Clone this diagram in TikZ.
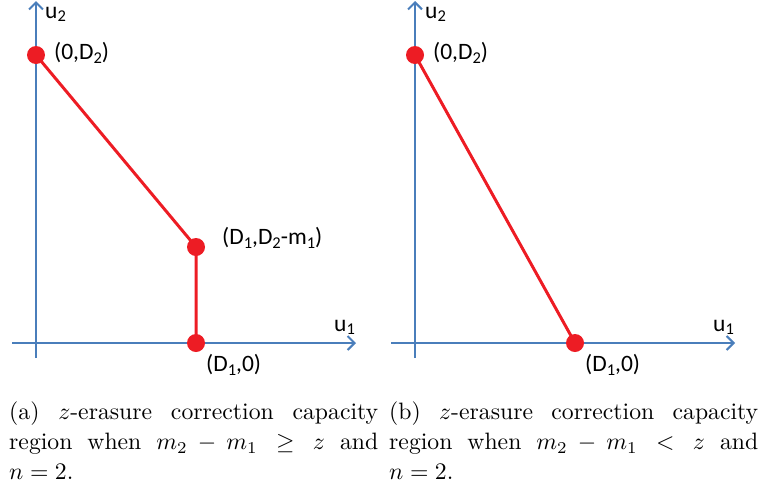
\documentclass[tikz,border=0pt]{standalone}
\usepackage{fontspec}
\newfontfamily\labfont{Carlito}
\usetikzlibrary{arrows.meta}
\definecolor{axisblue}{RGB}{74,126,187}
\definecolor{regred}{RGB}{237,28,36}
\newcommand{\lsub}[1]{\raisebox{-3.2pt}{\fontsize{16.5}{16.5}\selectfont #1}}
\newcommand{\capbox}[1]{\scalebox{2.37}{\parbox[t]{155.7pt}{\fontsize{10}{12.57}\selectfont #1}}}
\begin{document}
\begin{tikzpicture}[x=1pt,y=-1pt,
  axis/.style={draw=axisblue,line width=2.5pt,-{Straight Barb[length=7pt,width=14pt,line width=2pt]}},
  region/.style={draw=regred,line width=3pt},
  dot/.style={circle,fill=regred,inner sep=0pt,minimum size=18pt},
  lab/.style={anchor=west,inner sep=0pt,font=\labfont\fontsize{23.5}{26}\selectfont},
  caption/.style={anchor=north west,inner sep=0pt}]
\useasboundingbox (0,0) rectangle (762,488);
% ---- left panel (a)
\coordinate (ya0) at (36,358);
\coordinate (ya1) at (36,1);
\coordinate (xa0) at (12,343);
\coordinate (xa1) at (356,343);
\draw[axis] (ya0) -- (ya1);
\draw[axis] (xa0) -- (xa1);
\node[dot] (a1) at (36,55) {};
\node[dot] (a2) at (196,247) {};
\node[dot] (a3) at (196,343) {};
\draw[region] (a1.center) -- (a2.center) -- (a3.center);
\node[lab] (ua2) at (45,14) {u\lsub{2}};
\node[lab] (ua1) at (334,327) {u\lsub{1}};
\node[lab] (la1) at (54,53) {(0,D\lsub{2})};
\node[lab] (la2) at (222,238) {(D\lsub{1},D\lsub{2}-m\lsub{1})};
\node[lab] (la3) at (206,365) {(D\lsub{1},0)};
% ---- right panel (b)
\coordinate (yb0) at (415,358);
\coordinate (yb1) at (415,1);
\coordinate (xb0) at (391,343);
\coordinate (xb1) at (735,343);
\draw[axis] (yb0) -- (yb1);
\draw[axis] (xb0) -- (xb1);
\node[dot] (b1) at (415,55) {};
\node[dot] (b2) at (575,343) {};
\draw[region] (b1.center) -- (b2.center);
\node[lab] (ub2) at (425,14) {u\lsub{2}};
\node[lab] (ub1) at (713,327) {u\lsub{1}};
\node[lab] (lb1) at (433,53) {(0,D\lsub{2})};
\node[lab] (lb2) at (585,365) {(D\lsub{1},0)};
% ---- captions
\node[caption] (capa) at (9,401.7) {\capbox{(a) $z$-erasure correction capacity\linebreak region when $m_2-m_1\geq z$ and\linebreak $n=2$.}};
\node[caption] (capb) at (389,401.7) {\capbox{(b) $z$-erasure correction capacity\linebreak region when $m_2-m_1<z$ and\linebreak $n=2$.}};
\end{tikzpicture}
\end{document}
